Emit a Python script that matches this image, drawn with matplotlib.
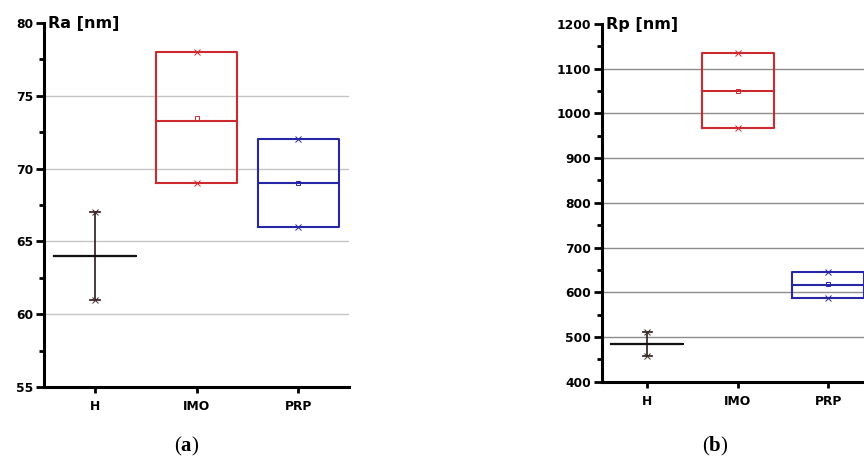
import matplotlib
matplotlib.use("Agg")
import matplotlib.pyplot as plt
from matplotlib.ticker import MultipleLocator

# ---- data ----
categories = ["H", "IMO", "PRP"]

ra_q1 = [64, 69, 66]
ra_med = [64, 73.3, 69]
ra_q3 = [64, 78, 72]
ra_lo = [61, 69, 66]
ra_hi = [67, 78, 72]
ra_mean = [64, 73.5, 69]

rp_q1 = [485, 968, 587]
rp_med = [485, 1051, 617]
rp_q3 = [485, 1135, 646]
rp_lo = [458, 968, 587]
rp_hi = [512, 1135, 646]
rp_mean = [485, 1051, 619]

colors = ["#111111", "#cc2a2e", "#2626a6"]
whisker_color = "#3c2c2c"

plt.rcParams["font.family"] = ["DejaVu Sans"]
plt.rcParams["mathtext.fontset"] = "custom"
plt.rcParams["mathtext.rm"] = "Liberation Serif"
plt.rcParams["mathtext.bf"] = "Liberation Serif:bold"

fig = plt.figure(figsize=(8.64, 4.61), dpi=100)
W, H = 864, 461


def make_axes(x0, x1, ytop, ybot):
    return fig.add_axes([x0 / W, 1 - ybot / H, (x1 - x0) / W, (ybot - ytop) / H])


def draw_panel(ax, q1, med, q3, lo, hi, mean, ylim, major, minor, label, grid_color):
    stats = []
    for i in range(len(categories)):
        stats.append(dict(q1=q1[i], med=med[i], q3=q3[i], whislo=lo[i],
                          whishi=hi[i], mean=mean[i], fliers=[]))
    pos = list(range(1, len(categories) + 1))
    res = ax.bxp(stats, positions=pos, widths=0.8, showmeans=True,
                 capwidths=[0.1] * len(pos), patch_artist=False, zorder=3)
    for i, c in enumerate(colors):
        res["boxes"][i].set_color(c)
        res["boxes"][i].set_linewidth(1.5)
        res["medians"][i].set_color(c)
        res["medians"][i].set_linewidth(1.5)
        m = res["means"][i]
        m.set_marker("s")
        m.set_markersize(3)
        m.set_markerfacecolor("none")
        m.set_markeredgecolor(c)
        m.set_markeredgewidth(0.7)
        if i == 0:
            m.set_visible(False)
        for k in (2 * i, 2 * i + 1):
            w = res["whiskers"][k]
            cp = res["caps"][k]
            if i == 0:
                w.set_color(whisker_color)
                w.set_linewidth(1.3)
                cp.set_color(whisker_color)
                cp.set_linewidth(1.3)
            else:
                w.set_visible(False)
                cp.set_visible(False)
        # extreme markers
        ax.plot([pos[i], pos[i]], [lo[i], hi[i]], linestyle="none", marker="x",
                markersize=4, markeredgewidth=0.7, color=c if i else whisker_color,
                zorder=4)

    ax.set_xlim(0.5, 3.5)
    ax.set_ylim(*ylim)
    ax.set_xticks(pos)
    ax.set_xticklabels(categories)
    ax.yaxis.set_major_locator(MultipleLocator(major))
    ax.yaxis.set_minor_locator(MultipleLocator(minor))
    ax.tick_params(axis="both", which="major", direction="out", length=5.5,
                   width=2, labelsize=8.8, pad=2.5)
    ax.tick_params(axis="x", which="major", pad=5, length=4.5)
    ax.tick_params(axis="y", which="minor", direction="out", length=3.5, width=2)
    ax.tick_params(axis="x", which="minor", bottom=False)
    for lab in ax.get_xticklabels() + ax.get_yticklabels():
        lab.set_fontweight("bold")
    for s in ("top", "right"):
        ax.spines[s].set_visible(False)
    for s in ("left", "bottom"):
        ax.spines[s].set_linewidth(2.2)
    ax.yaxis.grid(True, which="major", color=grid_color, linewidth=1.0, zorder=0)
    ax.set_axisbelow(True)
    gl = ax.get_ygridlines()
    ticks = ax.get_yticks()
    for g, t in zip(gl, ticks):
        if t >= ylim[1] - 1e-9 or t <= ylim[0] + 1e-9:
            g.set_visible(False)
    ax.annotate(label, xy=(0, 1), xycoords="axes fraction", xytext=(4, -5),
                textcoords="offset pixels", ha="left", va="baseline",
                fontsize=11.5, fontweight="bold")


ax1 = make_axes(44, 349, 23, 387)
draw_panel(ax1, ra_q1, ra_med, ra_q3, ra_lo, ra_hi, ra_mean, (55, 80), 5, 2.5,
           "Ra [nm]", "#c4c4c4")

ax2 = make_axes(602, 873.5, 24, 381.7)
draw_panel(ax2, rp_q1, rp_med, rp_q3, rp_lo, rp_hi, rp_mean, (400, 1200), 100, 50,
           "Rp [nm]", "#8c8c8c")

fig.text(187 / W, 1 - 446 / H, r"($\mathbf{a}$)", ha="center", va="center",
         fontsize=15, family="Liberation Serif")
fig.text(715 / W, 1 - 446 / H, r"($\mathbf{b}$)", ha="center", va="center",
         fontsize=15, family="Liberation Serif")

fig.savefig("out.png", dpi=100)
